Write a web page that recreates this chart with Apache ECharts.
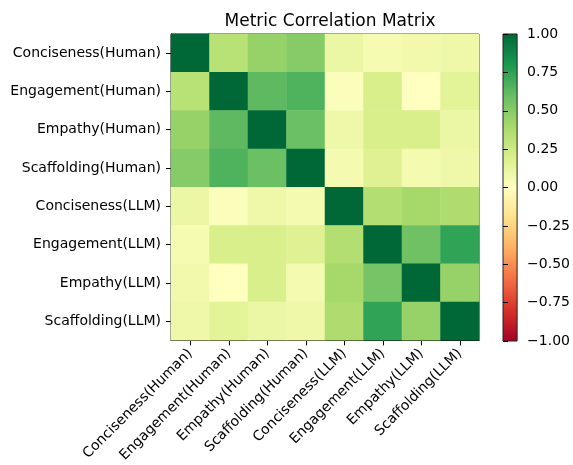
<!DOCTYPE html>
<html>
<head>
<meta charset="utf-8">
<script src="https://cdn.jsdelivr.net/npm/echarts@6/dist/echarts.min.js"></script>
<style>
  html, body { margin: 0; padding: 0; background: #fff; }
  #main { width: 573px; height: 465px; }
</style>
</head>
<body>
<div id="main"></div>
<script>
// 指标名称
var metrics = [
  'Conciseness(Human)', 'Engagement(Human)', 'Empathy(Human)', 'Scaffolding(Human)',
  'Conciseness(LLM)', 'Engagement(LLM)', 'Empathy(LLM)', 'Scaffolding(LLM)'
]
// 相关系数矩阵，每行一个指标
var rowConcHuman = [1.00, 0.33, 0.45, 0.50, 0.10, 0.05, 0.07, 0.09]
var rowEngHuman  = [0.33, 1.00, 0.62, 0.66, 0.02, 0.20, 0.00, 0.15]
var rowEmpHuman  = [0.45, 0.62, 1.00, 0.58, 0.09, 0.20, 0.20, 0.10]
var rowScafHuman = [0.50, 0.66, 0.58, 1.00, 0.06, 0.17, 0.06, 0.09]
var rowConcLLM   = [0.10, 0.02, 0.09, 0.06, 1.00, 0.35, 0.40, 0.37]
var rowEngLLM    = [0.05, 0.20, 0.20, 0.17, 0.35, 1.00, 0.57, 0.74]
var rowEmpLLM    = [0.07, 0.00, 0.20, 0.06, 0.40, 0.55, 1.00, 0.45]
var rowScafLLM   = [0.09, 0.15, 0.10, 0.09, 0.37, 0.74, 0.45, 1.00]
var matrixRows = [rowConcHuman, rowEngHuman, rowEmpHuman, rowScafHuman,
                  rowConcLLM, rowEngLLM, rowEmpLLM, rowScafLLM]

// RdYlGn 色带
var rdylgn = ['#a50026', '#d73027', '#f46d43', '#fdae61', '#fee08b', '#ffffbf',
              '#d9ef8b', '#a6d96a', '#66bd63', '#1a9850', '#006837']

var heatData = []
matrixRows.forEach(function (row, i) {
  row.forEach(function (v, j) {
    heatData.push([j, i, v])
  })
})

var font = 'DejaVu Sans'
var chart = echarts.init(document.getElementById('main'))
chart.setOption({
  backgroundColor: '#fff',
  animation: false,
  title: {
    text: 'Metric Correlation Matrix',
    left: 325,
    textAlign: 'center',
    top: 8,
    textStyle: { fontFamily: font, fontSize: 17, fontWeight: 'normal', color: '#000' }
  },
  grid: [
    { left: 171, top: 34, width: 308, height: 307, show: true, borderColor: '#222', borderWidth: 1, backgroundColor: 'transparent' },
    {
      left: 503, top: 34, width: 15, height: 307, show: true, borderColor: '#222', borderWidth: 1,
      // colorbar 渐变
      backgroundColor: {
        type: 'linear', x: 0, y: 1, x2: 0, y2: 0,
        colorStops: rdylgn.map(function (c, k) { return { offset: k / (rdylgn.length - 1), color: c } })
      }
    }
  ],
  visualMap: {
    show: false,
    min: -1,
    max: 1,
    seriesIndex: 0,
    inRange: { color: rdylgn }
  },
  xAxis: [
    {
      type: 'category',
      gridIndex: 0,
      data: metrics,
      axisLine: { show: true, lineStyle: { color: '#000' } },
      axisTick: { show: true, alignWithLabel: true, length: 5, lineStyle: { color: '#000' } },
      axisLabel: { rotate: 45, fontFamily: font, fontSize: 14, color: '#000', margin: 11 },
      splitLine: { show: false }
    },
    {
      type: 'value',
      gridIndex: 1,
      show: false
    }
  ],
  yAxis: [
    {
      type: 'category',
      gridIndex: 0,
      inverse: true,
      data: metrics,
      axisLine: { show: true, lineStyle: { color: '#000' } },
      axisTick: { show: true, alignWithLabel: true, length: 5, lineStyle: { color: '#000' } },
      axisLabel: { fontFamily: font, fontSize: 14, color: '#000', margin: 10 },
      splitLine: { show: false }
    },
    {
      type: 'value',
      gridIndex: 1,
      position: 'right',
      min: -1,
      max: 1,
      interval: 0.25,
      axisLine: { show: false },
      axisTick: { show: true, length: 5, lineStyle: { color: '#000' } },
      axisLabel: {
        fontFamily: font, fontSize: 14, color: '#000', margin: 10,
        formatter: function (v) {
          var s = Math.abs(v).toFixed(2)
          return v < 0 ? '\u2212' + s : s
        }
      },
      splitLine: { show: false }
    }
  ],
  series: [
    {
      type: 'heatmap',
      xAxisIndex: 0,
      yAxisIndex: 0,
      data: heatData,
      itemStyle: { borderWidth: 0 },
      emphasis: { disabled: true }
    }
  ]
})
</script>
</body>
</html>
